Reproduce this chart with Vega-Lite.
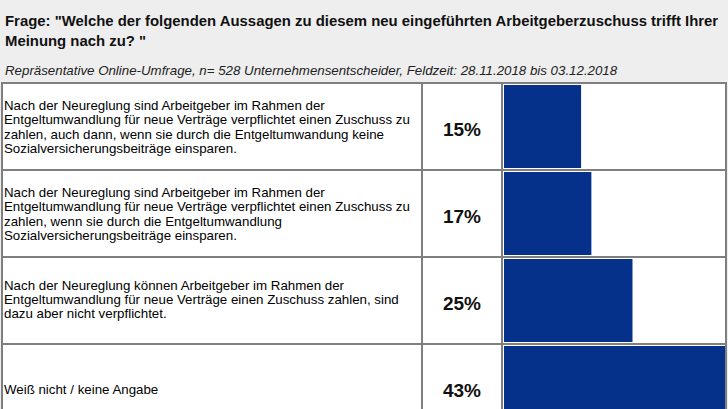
{
  "$schema": "https://vega.github.io/schema/vega-lite/v6.json",
  "background": "#eeeeee",
  "padding": {"left": 1, "top": 13, "right": 3, "bottom": 0},
  "bounds": "flush",
  "title": {
    "text": ["Frage: \"Welche der folgenden Aussagen zu diesem neu eingeführten Arbeitgeberzuschuss trifft Ihrer", "Meinung nach zu? \""],
    "subtitle": "Repräsentative Online-Umfrage, n= 528 Unternehmensentscheider, Feldzeit: 28.11.2018 bis 03.12.2018",
    "anchor": "start",
    "dx": 4,
    "font": "Liberation Sans",
    "fontSize": 14.9,
    "fontWeight": "bold",
    "lineHeight": 20,
    "color": "#111111",
    "subtitleFont": "Liberation Sans",
    "subtitleFontSize": 13.3,
    "subtitleFontStyle": "italic",
    "subtitleColor": "#222222",
    "subtitlePadding": 15,
    "offset": 5
  },
  "data": {
    "values": [
      {"id": 1, "text": ["Nach der Neureglung sind Arbeitgeber im Rahmen der", "Entgeltumwandlung für neue Verträge verpflichtet einen Zuschuss zu", "zahlen, auch dann, wenn sie durch die Entgeltumwandung keine", "Sozialversicherungsbeiträge einsparen."], "pct": 15, "label": "15%"},
      {"id": 2, "text": ["Nach der Neureglung sind Arbeitgeber im Rahmen der", "Entgeltumwandlung für neue Verträge verpflichtet einen Zuschuss zu", "zahlen, wenn sie durch die Entgeltumwandlung", "Sozialversicherungsbeiträge einsparen."], "pct": 17, "label": "17%"},
      {"id": 3, "text": ["Nach der Neureglung können Arbeitgeber im Rahmen der", "Entgeltumwandlung für neue Verträge einen Zuschuss zahlen, sind", "dazu aber nicht verpflichtet."], "pct": 25, "label": "25%"},
      {"id": 4, "text": ["Weiß nicht / keine Angabe"], "pct": 43, "label": "43%"}
    ]
  },
  "spacing": 0,
  "hconcat": [
    {
      "width": 420,
      "height": 348,
      "encoding": {
        "y": {"field": "id", "type": "ordinal", "axis": null, "scale": {"paddingInner": 0, "paddingOuter": 0}}
      },
      "layer": [
        {
          "mark": {"type": "rect", "fill": "white", "stroke": "#7f7f7f", "strokeWidth": 2},
          "encoding": {"x": {"value": 0}, "x2": {"value": "width"}}
        },
        {
          "transform": [{"filter": "length(datum.text) == 4"}],
          "mark": {"type": "text", "align": "left", "baseline": "middle", "font": "Liberation Sans", "fontSize": 13.3, "lineHeight": 14.4, "dx": 2, "dy": -20.5, "color": "#000000"},
          "encoding": {"x": {"value": 0}, "text": {"field": "text"}}
        },
        {
          "transform": [{"filter": "length(datum.text) == 3"}],
          "mark": {"type": "text", "align": "left", "baseline": "middle", "font": "Liberation Sans", "fontSize": 13.3, "lineHeight": 14.4, "dx": 2, "dy": -15, "color": "#000000"},
          "encoding": {"x": {"value": 0}, "text": {"field": "text"}}
        },
        {
          "transform": [{"filter": "length(datum.text) == 1"}],
          "mark": {"type": "text", "align": "left", "baseline": "middle", "font": "Liberation Sans", "fontSize": 13.3, "lineHeight": 14.4, "dx": 2, "dy": 2, "color": "#000000"},
          "encoding": {"x": {"value": 0}, "text": {"field": "text"}}
        }
      ]
    },
    {
      "width": 80,
      "height": 348,
      "encoding": {
        "y": {"field": "id", "type": "ordinal", "axis": null, "scale": {"paddingInner": 0, "paddingOuter": 0}}
      },
      "layer": [
        {
          "mark": {"type": "rect", "fill": "white", "stroke": "#7f7f7f", "strokeWidth": 2},
          "encoding": {"x": {"value": 0}, "x2": {"value": "width"}}
        },
        {
          "mark": {"type": "text", "align": "center", "baseline": "middle", "font": "Liberation Sans", "fontSize": 19, "fontWeight": "bold", "dy": 3, "color": "#111111"},
          "encoding": {"text": {"field": "label"}}
        }
      ]
    },
    {
      "width": 224,
      "height": 348,
      "encoding": {
        "y": {"field": "id", "type": "ordinal", "axis": null, "scale": {"paddingInner": 0, "paddingOuter": 0}}
      },
      "layer": [
        {
          "mark": {"type": "rect", "fill": "white", "stroke": "#7f7f7f", "strokeWidth": 2},
          "encoding": {"x": {"value": 0}, "x2": {"value": "width"}}
        },
        {
          "mark": {"type": "bar", "color": "#06318b", "height": {"band": 0.955}},
          "encoding": {
            "x": {"field": "pct", "type": "quantitative", "axis": null, "scale": {"domain": [0, 43], "range": [2, 223]}}
          }
        }
      ]
    }
  ],
  "config": {"view": {"stroke": null}, "concat": {"spacing": 0}}
}
